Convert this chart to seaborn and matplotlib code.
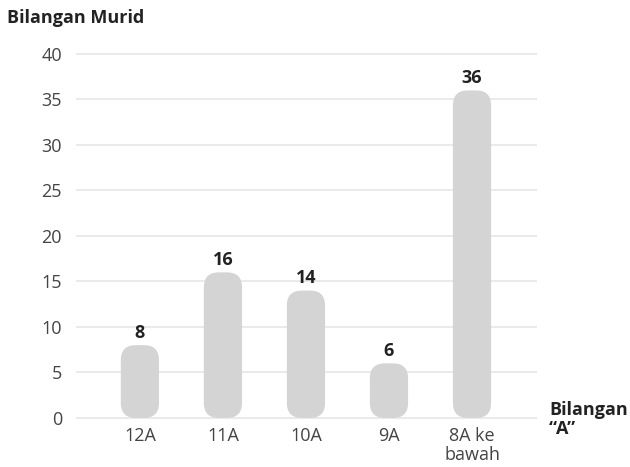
import matplotlib
matplotlib.use("Agg")
import matplotlib.pyplot as plt
from matplotlib.patches import FancyBboxPatch
import seaborn as sns
import pandas as pd

# chart data
categories = ["12A", "11A", "10A", "9A", "8A ke\nbawah"]
values = [8, 16, 14, 6, 36]
yticks = [0, 5, 10, 15, 20, 25, 30, 35, 40]

sns.set_style("white")
plt.rcParams['font.family'] = ['Open Sans', 'DejaVu Sans']

df = pd.DataFrame({"kategori": categories, "murid": values})

fig = plt.figure(figsize=(6.3, 4.67), dpi=100)
ax = fig.add_axes([0.1206, 0.0953, 0.7314, 0.7988])

sns.barplot(data=df, x="kategori", y="murid", color="#d4d4d4",
            width=0.46, ax=ax, zorder=3)

ax.set_xlim(-0.77, 4.78)
ax.set_ylim(-0.5, 40.5)

# swap the plain bars for rounded ones
fig.canvas.draw()
bbox = ax.get_window_extent()
px_x = bbox.width / (4.78 + 0.77)
px_y = bbox.height / 41.0
radius_px = 15
bars = list(ax.patches)
for bar in bars:
    x0, w, h = bar.get_x(), bar.get_width(), bar.get_height()
    rounded = FancyBboxPatch((x0, 0), w, h,
                             boxstyle=f"round,pad=0,rounding_size={radius_px / px_x}",
                             mutation_aspect=px_x / px_y,
                             facecolor="#d4d4d4", edgecolor="none", zorder=3)
    ax.add_patch(rounded)
    bar.remove()
    ax.text(x0 + w / 2, h + 0.35, str(int(h)), ha="center", va="bottom",
            fontsize=13, fontweight="bold", color="#222222")

ax.set_yticks(yticks)
ax.set_yticklabels([str(t) for t in yticks], fontsize=13, color="#444444")
ax.tick_params(axis="y", length=0, pad=10)
ax.tick_params(axis="x", length=0, pad=3, labelsize=13, labelcolor="#444444")
ax.set_xlabel("")
ax.set_ylabel("")
for lbl in ax.get_xticklabels():
    lbl.set_linespacing(1.12)

ax.yaxis.grid(True, color="#e6e6e6", linewidth=1.2, zorder=0)
ax.set_axisbelow(True)
sns.despine(ax=ax, left=True, bottom=True)

fig.text(7 / 630, 1 - 18 / 467, "Bilangan Murid", ha="left", va="center",
         fontsize=13, fontweight="bold", color="#222222")
fig.text(549 / 630, 1 - 401 / 467, "Bilangan\n\u201cA\u201d", ha="left", va="top",
         fontsize=13, fontweight="bold", color="#222222", linespacing=1.1)

fig.savefig("out.png", dpi=100)
